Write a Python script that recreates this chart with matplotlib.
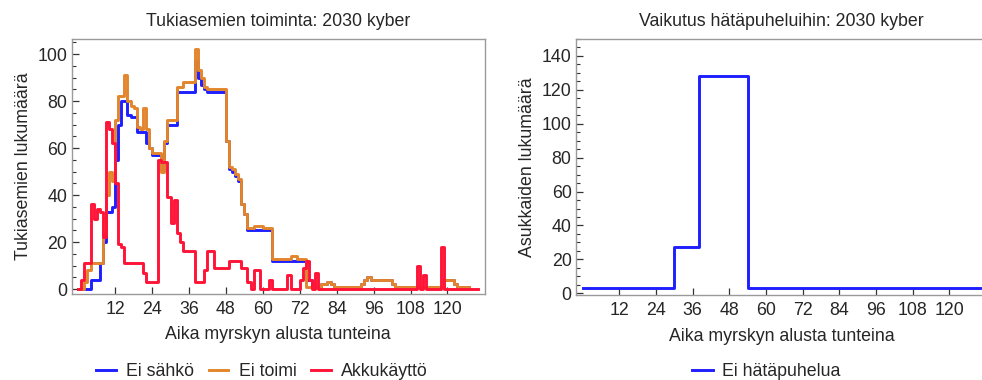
import numpy as np
import matplotlib
matplotlib.use("Agg")
import matplotlib.pyplot as plt
from matplotlib.ticker import MultipleLocator, FixedLocator
from matplotlib.lines import Line2D

# --- data -------------------------------------------------------------
# Base stations per hour since the start of the storm (step series)
ei_sahko = [0, 0, 0, 0, 4, 4, 4, 11, 20, 33, 33, 35, 55, 70, 80, 80, 74, 73, 73, 67,
            67, 67, 62, 60, 57, 57, 57, 51, 62, 70, 70, 70, 84, 84, 84, 84, 84, 84, 97, 90,
            87, 85, 84, 84, 84, 84, 84, 84, 63, 51, 50, 48, 46, 36, 32, 25, 25, 25, 25, 25,
            25, 25, 25, 12, 12, 12, 12, 12, 12, 12, 12, 12, 12, 12, 4, 4, 1, 1, 1, 2,
            2, 3, 2, 1, 1, 1, 1, 1, 1, 1, 1, 1, 2, 4, 5, 4, 4, 4, 4, 4,
            4, 4, 2, 1, 1, 1, 1, 1, 1, 1, 1, 1, 1, 1, 1, 1, 1, 1, 1, 4,
            4, 4, 2, 1, 1, 1, 1, 1]
ei_toimi = [0, 0, 3, 8, 11, 11, 11, 11, 24, 40, 50, 46, 72, 82, 82, 91, 80, 78, 77, 69,
            68, 77, 68, 60, 58, 58, 58, 50, 63, 72, 72, 72, 86, 86, 88, 88, 88, 88, 102, 93,
            90, 86, 85, 85, 85, 85, 85, 85, 63, 52, 51, 49, 47, 36, 32, 26, 26, 27, 27, 27,
            26, 26, 26, 13, 13, 13, 13, 13, 13, 14, 14, 13, 13, 13, 1, 1, 1, 1, 1, 2,
            2, 3, 2, 1, 1, 1, 1, 1, 1, 1, 1, 1, 2, 4, 5, 4, 4, 4, 4, 4,
            4, 4, 2, 1, 1, 1, 1, 1, 1, 1, 1, 1, 1, 1, 1, 1, 1, 1, 1, 4,
            4, 4, 2, 1, 1, 1, 1, 1]
akkukaytto = [0, 4, 11, 11, 36, 30, 34, 33, 22, 71, 68, 62, 45, 19, 18, 11, 11, 11, 11, 11,
              11, 7, 3, 3, 3, 3, 55, 54, 54, 39, 28, 38, 24, 20, 16, 16, 16, 16, 3, 3,
              3, 8, 16, 16, 9, 9, 9, 9, 9, 12, 12, 12, 12, 9, 9, 3, 0, 8, 8, 0,
              0, 0, 4, 0, 0, 0, 0, 0, 6, 0, 0, 0, 4, 9, 12, 4, 0, 7, 0, 0,
              0, 0, 0, 0, 0, 0, 0, 0, 0, 0, 0, 0, 0, 0, 0, 0, 0, 0, 0, 0,
              0, 0, 0, 0, 0, 0, 0, 0, 0, 0, 10, 0, 6, 0, 0, 0, 0, 0, 18, 0,
              0, 0, 0, 0, 0, 0, 0, 0, 0, 0, 0]

# Residents without emergency-call access: change points (hour, level)
hata_tunnit = [0, 30, 38, 54, 130]
hata_arvot = [3, 27, 128, 3, 3]

x_ticks = [12, 24, 36, 48, 60, 72, 84, 96, 108, 120]

# --- styling ----------------------------------------------------------
plt.rcParams['font.family'] = ['Liberation Sans', 'DejaVu Sans']
TXT = '#262626'
FRAME = '#9a9a9a'
C_BLUE = '#1e1eff'
C_ORANGE = '#e2852c'
C_RED = '#ff1438'
FS = 12.8
LW = 2.1

fig = plt.figure(figsize=(9.82, 3.80), dpi=100)
ax1 = fig.add_axes([71.5 / 982, 1 - 294 / 380, (485 - 71.5) / 982, (294 - 39) / 380])
ax2 = fig.add_axes([575.7 / 982, 1 - 295.3 / 380, (987 - 575.7) / 982, (295.3 - 39) / 380])


def style(ax):
    for s in ax.spines.values():
        s.set_color(FRAME)
        s.set_linewidth(1.0)
    ax.tick_params(axis='both', which='both', direction='in', colors='#333333',
                   labelcolor=TXT, labelsize=FS, top=False, right=False)
    ax.tick_params(which='major', length=5, width=0.9)
    ax.tick_params(which='minor', length=3, width=0.8)
    ax.tick_params(axis='x', pad=5)
    ax.tick_params(axis='y', pad=3)
    ax.xaxis.set_major_locator(FixedLocator(x_ticks))
    ax.yaxis.set_major_locator(MultipleLocator(20))
    ax.yaxis.set_minor_locator(MultipleLocator(5))
    ax.set_xlabel('Aika myrskyn alusta tunteina', fontsize=FS, color=TXT, labelpad=6)


# --- left panel -------------------------------------------------------
h1 = np.arange(len(ei_sahko))
h2 = np.arange(len(ei_toimi))
h3 = np.arange(len(akkukaytto))
ax1.step(h1, ei_sahko, where='post', color=C_BLUE, lw=LW, zorder=2)
ax1.step(h2, ei_toimi, where='post', color=C_ORANGE, lw=LW, zorder=3)
ax1.step(h3, akkukaytto, where='post', color=C_RED, lw=LW, zorder=4)
ax1.set_xlim(-2.2, 132.2)
ax1.set_ylim(-2.1, 106.4)
style(ax1)
ax1.set_ylabel('Tukiasemien lukumäärä', fontsize=FS, color=TXT, labelpad=4)
ax1.set_title('Tukiasemien toiminta: 2030 kyber', fontsize=FS, color=TXT, pad=9)

# --- right panel ------------------------------------------------------
ax2.step(hata_tunnit, hata_arvot, where='post', color=C_BLUE, lw=LW)
ax2.set_xlim(-2.3, 132.3)
ax2.set_ylim(-1.2, 150)
style(ax2)
ax2.set_ylabel('Asukkaiden lukumäärä', fontsize=FS, color=TXT, labelpad=4)
ax2.set_title('Vaikutus hätäpuheluihin: 2030 kyber', fontsize=FS, color=TXT, pad=9)

# --- legends ----------------------------------------------------------
handles1 = [Line2D([], [], color=C_BLUE, lw=LW),
            Line2D([], [], color=C_ORANGE, lw=LW),
            Line2D([], [], color=C_RED, lw=LW)]
fig.legend(handles1, ['Ei sähkö', 'Ei toimi', 'Akkukäyttö'], ncol=3, loc='center',
           bbox_to_anchor=(262 / 982, 1 - 372 / 380), frameon=False, fontsize=FS,
           handlelength=1.12, handletextpad=0.58, columnspacing=0.8, labelcolor=TXT)
fig.legend([Line2D([], [], color=C_BLUE, lw=LW)], ['Ei hätäpuhelua'], loc='center',
           bbox_to_anchor=(766 / 982, 1 - 372 / 380), frameon=False, fontsize=FS,
           handlelength=1.2, handletextpad=0.5, labelcolor=TXT)

fig.savefig('out.png', dpi=100)
